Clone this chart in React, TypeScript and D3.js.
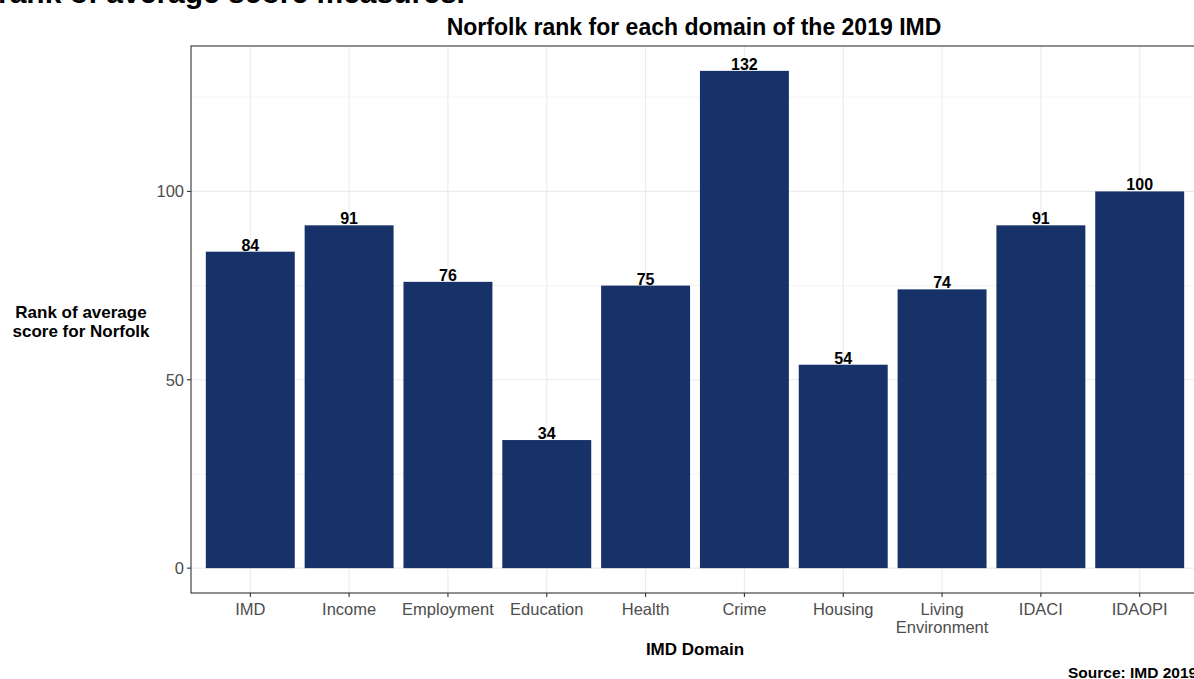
import React from "react";
import * as d3 from "d3";

const categories = ["IMD", "Income", "Employment", "Education", "Health", "Crime", "Housing", "Living\nEnvironment", "IDACI", "IDAOPI"];
const ranks = [84, 91, 76, 34, 75, 132, 54, 74, 91, 100];
const yTicks = [0, 50, 100];
const yMinor = [25, 75, 125];

const W = 1194, H = 679;
const P = { left: 191, right: 1199, top: 46, bottom: 593 };
const FONT = "'Liberation Sans', Arial, sans-serif";

export default function App() {
  const maxV = d3.max(ranks) as number;
  const y = d3.scaleLinear().domain([-maxV * 0.05, maxV * 1.05]).range([P.bottom, P.top]);
  const x = d3.scaleBand<string>().domain(categories).range([P.left, P.right]).paddingInner(0.1).paddingOuter(0.15);
  const cx = (c: string) => (x(c) as number) + x.bandwidth() / 2;
  const midX = (P.left + P.right) / 2;
  return (
    <svg width={W} height={H} style={{ position: "absolute", left: 0, top: 0, background: "#fff" }} fontFamily={FONT}>
      <rect x={0} y={0} width={W} height={H} fill="#fff" />
      <text x={-2} y={3} fontSize={30} fontWeight="bold" fill="#000">rank of average score measures.</text>
      <text x={midX - 1} y={35} textAnchor="middle" fontSize={23} fontWeight="bold" fill="#000">Norfolk rank for each domain of the 2019 IMD</text>
      {/* grid */}
      {yMinor.map((t) => (
        <line key={"mi" + t} x1={P.left} x2={P.right} y1={y(t)} y2={y(t)} stroke="#ebebeb" strokeWidth={0.6} />
      ))}
      {yTicks.map((t) => (
        <line key={"ma" + t} x1={P.left} x2={P.right} y1={y(t)} y2={y(t)} stroke="#ebebeb" strokeWidth={1.1} />
      ))}
      {categories.map((c) => (
        <line key={"vg" + c} x1={cx(c)} x2={cx(c)} y1={P.top} y2={P.bottom} stroke="#ebebeb" strokeWidth={1.1} />
      ))}
      {/* bars */}
      {categories.map((c, i) => (
        <rect key={"b" + c} x={x(c)} y={y(ranks[i])} width={x.bandwidth()} height={y(0) - y(ranks[i])} fill="#163269" />
      ))}
      {categories.map((c, i) => (
        <text key={"l" + c} x={cx(c)} y={y(ranks[i]) - 1} textAnchor="middle" fontSize={16} fontWeight="bold" fill="#000">{ranks[i]}</text>
      ))}
      {/* panel border */}
      <rect x={P.left} y={P.top} width={P.right - P.left} height={P.bottom - P.top} fill="none" stroke="#333" strokeWidth={1.1} />
      {/* y axis */}
      {yTicks.map((t) => (
        <g key={"yt" + t}>
          <line x1={P.left - 4} x2={P.left} y1={y(t)} y2={y(t)} stroke="#333" strokeWidth={1.1} />
          <text x={P.left - 7} y={y(t) + 6} textAnchor="end" fontSize={16.5} fill="#4d4d4d">{t}</text>
        </g>
      ))}
      {/* x axis */}
      {categories.map((c) => (
        <g key={"xt" + c}>
          <line x1={cx(c)} x2={cx(c)} y1={P.bottom} y2={P.bottom + 4} stroke="#333" strokeWidth={1.1} />
          {c.split("\n").map((ln, j) => (
            <text key={j} x={cx(c)} y={615 + j * 18} textAnchor="middle" fontSize={16.5} fill="#4d4d4d">{ln}</text>
          ))}
        </g>
      ))}
      <text x={midX} y={655} textAnchor="middle" fontSize={17} fontWeight="bold" fill="#000">IMD Domain</text>
      <text x={81} y={318} textAnchor="middle" fontSize={17} fontWeight="bold" fill="#000">Rank of average</text>
      <text x={81} y={337} textAnchor="middle" fontSize={17} fontWeight="bold" fill="#000">score for Norfolk</text>
      <text x={1068} y={678} fontSize={15.5} fontWeight="bold" fill="#000">Source: IMD 2019</text>
    </svg>
  );
}
